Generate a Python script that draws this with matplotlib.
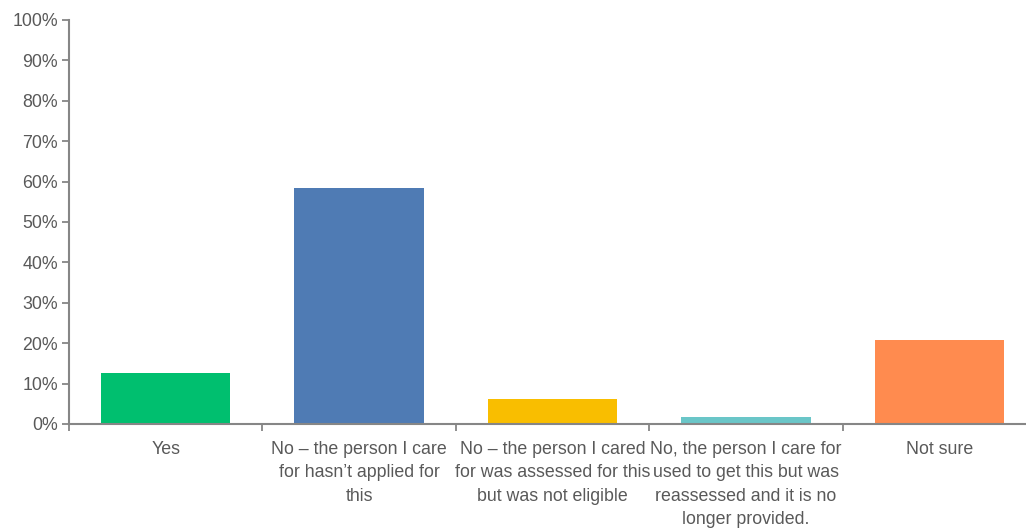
import numpy as np
import matplotlib.pyplot as plt
from matplotlib.ticker import PercentFormatter, FixedLocator

categories = [
    "Yes",
    "No \u2013 the person I care\nfor hasn\u2019t applied for\nthis",
    "No \u2013 the person I cared\nfor was assessed for this\nbut was not eligible",
    "No, the person I care for\nused to get this but was\nreassessed and it is no\nlonger provided.",
    "Not sure",
]
values = [12.6, 58.3, 6.2, 1.7, 20.8]
colors = ["#00BF6F", "#4F7BB4", "#F9BE00", "#6AC6C8", "#FF8B4F"]

plt.rcParams['font.family'] = ['Liberation Sans', 'DejaVu Sans']
grey = "#595959"
axis_col = "#868686"

fig = plt.figure(figsize=(10.26, 5.29), dpi=100)
ax = fig.add_axes([69 / 1026, 105 / 529, 967 / 1026, 404 / 529])

x = np.arange(len(categories))
ax.bar(x, values, width=0.67, color=colors)

ax.set_xlim(-0.5, len(categories) - 0.5)
ax.set_ylim(0, 100)
ax.set_yticks(np.arange(0, 101, 10))
ax.yaxis.set_major_formatter(PercentFormatter(decimals=0))

ax.set_xticks(x)
ax.set_xticklabels(categories, linespacing=1.5)
ax.xaxis.set_minor_locator(FixedLocator(np.arange(-0.5, len(categories), 1)))
ax.tick_params(axis='x', which='major', length=0, pad=12, labelsize=12.8, colors=grey)
ax.tick_params(axis='x', which='minor', length=5, width=1.3, color=axis_col)
ax.tick_params(axis='y', length=5, width=1.3, color=axis_col, labelsize=12.8, labelcolor=grey, pad=3)

for s in ['top', 'right']:
    ax.spines[s].set_visible(False)
for s in ['left', 'bottom']:
    ax.spines[s].set_color(axis_col)
    ax.spines[s].set_linewidth(1.5)

fig.savefig('out.png', dpi=100)
